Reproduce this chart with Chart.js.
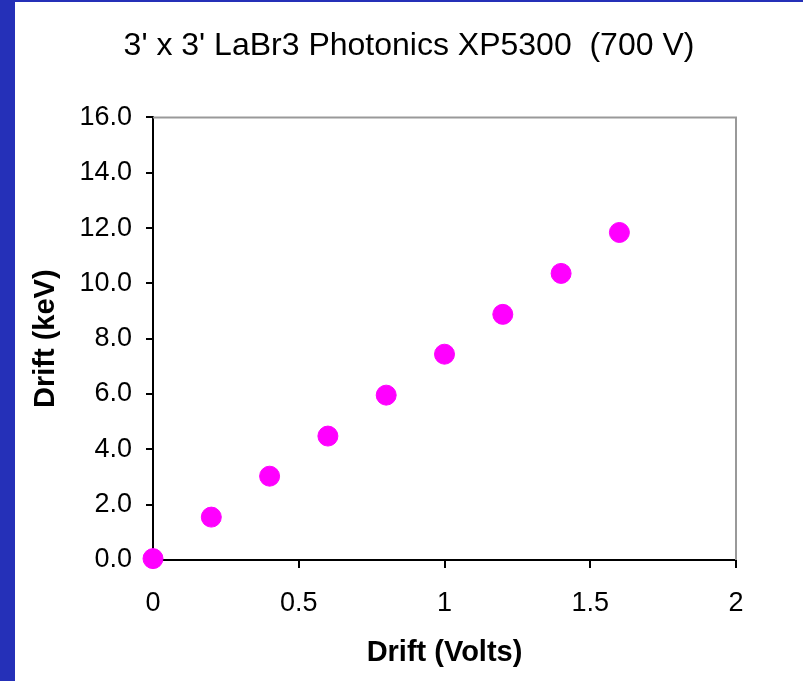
<!DOCTYPE html>
<html>
<head>
<meta charset="utf-8">
<script src="https://cdn.jsdelivr.net/npm/chart.js@4.4.0/dist/chart.umd.min.js"></script>
<style>
  html, body { margin: 0; padding: 0; background: #2530b8; }
  #wrap { position: absolute; left: 15px; top: 2px; width: 788px; height: 679px; background: #ffffff; }
</style>
</head>
<body>
<div id="wrap"><canvas id="drift" width="788" height="679"></canvas></div>
<script>
var voltsDrift = [0, 0.2, 0.4, 0.6, 0.8, 1.0, 1.2, 1.4, 1.6];
var keVDrift = [0.05, 1.55, 3.03, 4.48, 5.96, 7.44, 8.88, 10.36, 11.84];
var chartTitle = "3' x 3' LaBr3 Photonics XP5300  (700 V)";
var xTitle = "Drift (Volts)";
var yTitle = "Drift (keV)";

var points = voltsDrift.map(function (v, i) { return { x: v, y: keVDrift[i] }; });

// grey frame on the top and right of the plot
var frame = {
    id: 'frame',
    afterDraw: function (chart) {
        var a = chart.chartArea, ctx = chart.ctx;
        ctx.save();
        ctx.strokeStyle = '#999999';
        ctx.lineWidth = 2;
        ctx.beginPath();
        ctx.moveTo(a.left, a.top);
        ctx.lineTo(a.right, a.top);
        ctx.lineTo(a.right, a.bottom);
        ctx.stroke();
        ctx.restore();
    }
};

new Chart(document.getElementById("drift").getContext("2d"), {
    type: 'scatter',
    data: {
        datasets: [{
            data: points,
            backgroundColor: '#ff00ff',
            borderColor: '#ff00ff',
            pointRadius: 10,
            pointHoverRadius: 10
        }]
    },
    options: {
        responsive: false,
        animation: false,
        clip: false,
        layout: { padding: 0 },
        plugins: {
            legend: { display: false },
            tooltip: { enabled: false },
            title: {
                display: true,
                text: chartTitle,
                color: '#000000',
                font: { family: 'Liberation Sans, Arial', size: 32, weight: 'normal' },
                padding: { top: 25, bottom: 52 }
            }
        },
        scales: {
            x: {
                type: 'linear',
                min: 0,
                max: 2,
                afterFit: function (s) { s.height = 121; },
                ticks: {
                    stepSize: 0.5,
                    color: '#000000',
                    padding: 19,
                    font: { family: 'Liberation Sans, Arial', size: 27 },
                    callback: function (v) { return String(v); }
                },
                grid: { drawOnChartArea: false, color: '#000000', tickLength: 8, lineWidth: 2 },
                border: { color: '#000000', width: 2 },
                title: {
                    display: true,
                    text: xTitle,
                    color: '#000000',
                    font: { family: 'Liberation Sans, Arial', size: 29, weight: 'bold' },
                    padding: { top: 0, bottom: 11 }
                }
            },
            y: {
                min: 0,
                max: 16,
                afterFit: function (s) { s.width = 138; },
                ticks: {
                    stepSize: 2,
                    color: '#000000',
                    padding: 14,
                    font: { family: 'Liberation Sans, Arial', size: 27 },
                    callback: function (v) { return v.toFixed(1); }
                },
                grid: { drawOnChartArea: false, color: '#000000', tickLength: 7, lineWidth: 2 },
                border: { color: '#000000', width: 2 },
                title: {
                    display: true,
                    text: yTitle,
                    color: '#000000',
                    font: { family: 'Liberation Sans, Arial', size: 29, weight: 'bold' },
                    padding: { top: 14, bottom: 0 }
                }
            },
            // empty right-hand axis that only reserves the white margin
            yRight: {
                position: 'right',
                min: 0,
                max: 16,
                afterFit: function (s) { s.width = 67; },
                ticks: { display: false },
                grid: { display: false },
                border: { display: false }
            }
        }
    },
    plugins: [frame]
});
</script>
</body>
</html>
